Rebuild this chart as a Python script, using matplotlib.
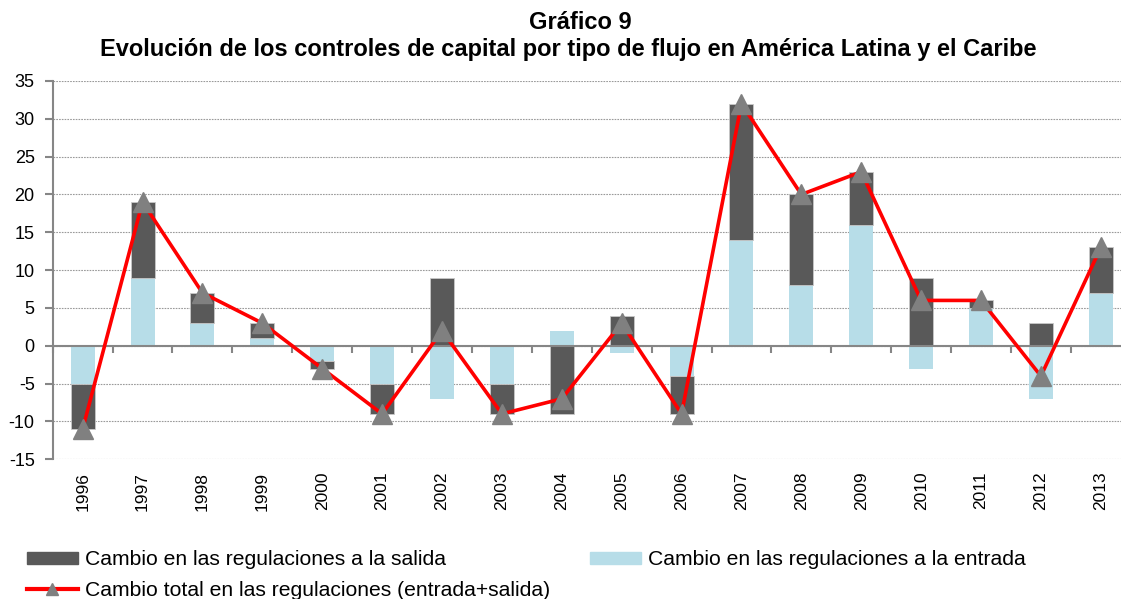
import numpy as np
import matplotlib
matplotlib.use("Agg")
import matplotlib.pyplot as plt
from matplotlib.lines import Line2D
from matplotlib.patches import Patch

plt.rcParams['font.family'] = ['Liberation Sans', 'DejaVu Sans']
plt.rcParams['axes.unicode_minus'] = False

years = ['1996', '1997', '1998', '1999', '2000', '2001', '2002', '2003', '2004',
         '2005', '2006', '2007', '2008', '2009', '2010', '2011', '2012', '2013']
entrada = [-5, 9, 3, 1, -2, -5, -7, -5, 2, -1, -4, 14, 8, 16, -3, 5, -7, 7]
salida = [-6, 10, 4, 2, -1, -4, 9, -4, -9, 4, -5, 18, 12, 7, 9, 1, 3, 6]
total = [-11, 19, 7, 3, -3, -9, 2, -9, -7, 3, -9, 32, 20, 23, 6, 6, -4, 13]

dark = '#595959'
light = '#B7DDE8'
grey = '#868686'

fig = plt.figure(figsize=(11.21, 5.99), dpi=100)
ax = fig.add_axes([0.047, 0.2332, 0.9617, 0.6316])

x = np.arange(len(years))
ent = np.array(entrada)
sal = np.array(salida)
# stacked like Excel: same-sign pieces pile up, opposite-sign start at zero
bottom = np.where(np.sign(ent) == np.sign(sal), ent, 0)

ax.bar(x, ent, width=0.4, color=light, zorder=2)
ax.bar(x, sal, bottom=bottom, width=0.4, color=dark, edgecolor='#C8C8C8',
       linewidth=0.6, zorder=2)
ax.plot(x, total, color='#FF0000', linewidth=2.6, marker='^', markersize=14,
        markerfacecolor='#808080', markeredgecolor='#808080', zorder=3)

ax.set_xlim(-0.5, len(years) - 0.5)
ax.set_ylim(-15, 35)
ax.set_yticks(np.arange(-15, 36, 5))
ax.yaxis.grid(True, linestyle=(0, (1.5, 1)), color='#9A9A9A', linewidth=0.8, zorder=0)
ax.set_axisbelow(True)

for s in ['top', 'right']:
    ax.spines[s].set_visible(False)
ax.spines['left'].set_color(grey)
ax.spines['left'].set_linewidth(1.5)
ax.spines['bottom'].set_position(('data', 0))
ax.spines['bottom'].set_color(grey)
ax.spines['bottom'].set_linewidth(1.5)
ax.spines['bottom'].set_zorder(2.5)

ax.tick_params(axis='y', direction='out', length=6, width=1.5, color=grey,
               labelsize=13, pad=7)
ax.set_xticks(x[:-1] + 0.5)
ax.set_xticks([-0.5], minor=True)
ax.tick_params(axis='x', which='both', direction='out', length=5, width=1.5,
               color=grey, labelbottom=False)

sec = ax.secondary_xaxis('bottom')
sec.set_xticks(x)
sec.set_xticklabels(years, rotation=90)
sec.tick_params(length=0, labelsize=12.5, pad=9)
sec.spines['bottom'].set_visible(False)

fig.text(0.518, 0.963, 'Gráfico 9', ha='center', va='center',
         fontsize=17, fontweight='bold')
fig.text(0.507, 0.918, 'Evolución de los controles de capital por tipo de flujo en América Latina y el Caribe',
         ha='center', va='center', fontsize=17, fontweight='bold')

h_sal = Patch(facecolor=dark, edgecolor=dark)
h_ent = Patch(facecolor=light, edgecolor=light)
h_tot = Line2D([], [], color='#FF0000', linewidth=3, marker='^', markersize=9,
               markerfacecolor='#808080', markeredgecolor='#808080')
fig.legend([h_sal, h_tot, h_ent],
           ['Cambio en las regulaciones a la salida',
            'Cambio total en las regulaciones (entrada+salida)',
            'Cambio en las regulaciones a la entrada'],
           ncol=2, loc='upper left', bbox_to_anchor=(0.024, 0.081),
           frameon=False, fontsize=15.2, handlelength=2.4, handleheight=0.52,
           handletextpad=0.35, columnspacing=1.9, labelspacing=0.56,
           borderaxespad=0, borderpad=0)

fig.savefig('out.png', dpi=100)
